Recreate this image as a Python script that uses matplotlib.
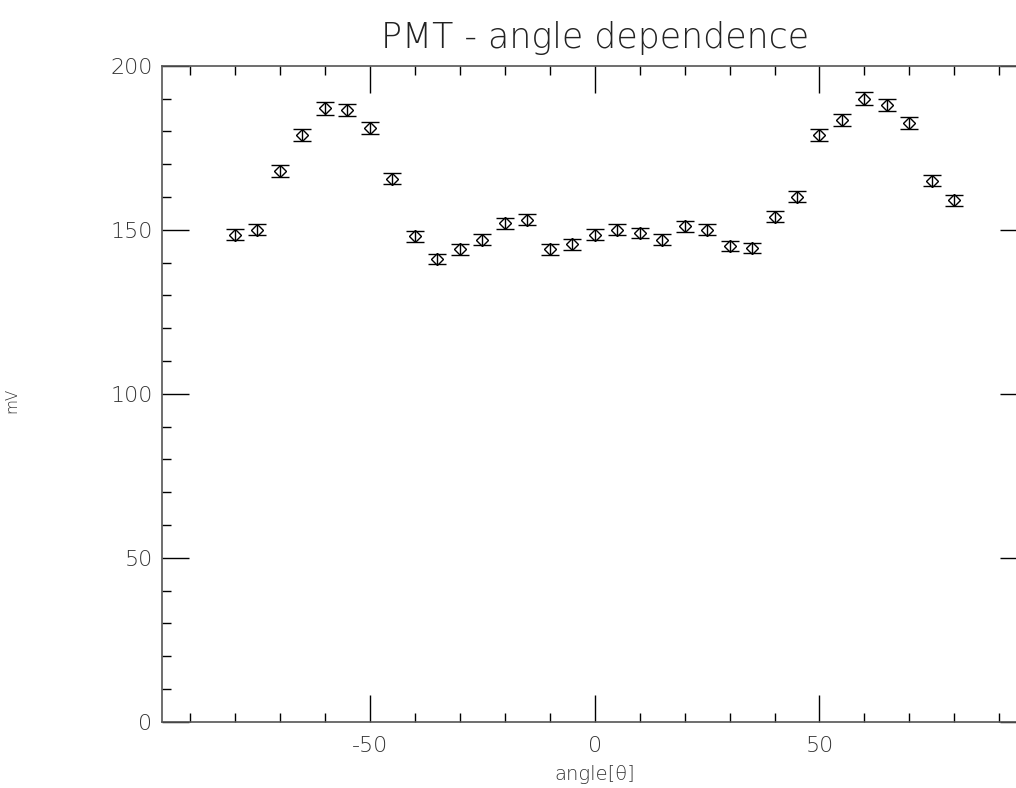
import matplotlib
matplotlib.use("Agg")
import matplotlib.pyplot as plt
from matplotlib.ticker import MultipleLocator

plt.rcParams['font.family'] = ['DejaVu Sans']
plt.rcParams['axes.unicode_minus'] = False

# angle [deg] and PMT signal [mV] with errors
angle = [-80, -75, -70, -65, -60, -55, -50, -45, -40, -35, -30, -25, -20, -15, -10, -5,
         0, 5, 10, 15, 20, 25, 30, 35, 40, 45, 50, 55, 60, 65, 70, 75, 80]
mv = [148.5, 150.0, 168.0, 179.0, 187.0, 186.5, 181.0, 165.5, 148.0, 141.0, 144.0,
      147.0, 152.0, 153.0, 144.0, 145.5, 148.5, 150.0, 149.0, 147.0, 151.0, 150.0,
      145.0, 144.5, 154.0, 160.0, 179.0, 183.5, 190.0, 188.0, 182.5, 165.0, 159.0]
mv_err = [1.7, 1.7, 1.8, 1.8, 1.9, 1.9, 1.8, 1.7, 1.6, 1.6, 1.6, 1.6, 1.7, 1.7, 1.6, 1.6,
          1.6, 1.7, 1.6, 1.6, 1.7, 1.7, 1.6, 1.6, 1.7, 1.7, 1.8, 1.8, 1.9, 1.9, 1.8, 1.7, 1.7]

fig = plt.figure(figsize=(10.16, 7.88), dpi=100)
ax = fig.add_axes([0.1597, 0.0841, 0.851, 0.8325])

ax.errorbar(angle, mv, yerr=mv_err, fmt='D', ms=6, mfc='none', mec='black', mew=1.0,
            ecolor='black', elinewidth=1.0, capsize=6.5, capthick=1.2, color='black')

ax.set_xlim(-96.1, 96.1)
ax.set_ylim(0, 200)
ax.xaxis.set_major_locator(MultipleLocator(50))
ax.xaxis.set_minor_locator(MultipleLocator(10))
ax.yaxis.set_major_locator(MultipleLocator(50))
ax.yaxis.set_minor_locator(MultipleLocator(10))
ax.tick_params(which='both', direction='in', top=True, right=True, color='black', width=1.0)
ax.tick_params(which='major', length=19.5, labelsize=16, pad=10, labelcolor='#333333')
ax.tick_params(axis='y', which='major', pad=7)
ax.tick_params(which='minor', length=6.5)
for sp in ax.spines.values():
    sp.set_color('#555555')
    sp.set_linewidth(1.2)

for lab in ax.get_xticklabels() + ax.get_yticklabels():
    lab.set_fontweight('light')

ax.set_title("PMT - angle dependence", fontsize=25, fontweight='light', pad=13, color='#222222')
ax.set_xlabel("angle[θ]", fontsize=14, fontweight='light', color='#333333')
ax.xaxis.set_label_coords(0.5, -0.066)
ax.set_ylabel("mV", fontsize=11, fontweight='light', color='#333333')
ax.yaxis.set_label_coords(-0.165, 0.49)

plt.savefig("out.png", dpi=100, facecolor='white')
plt.close()
